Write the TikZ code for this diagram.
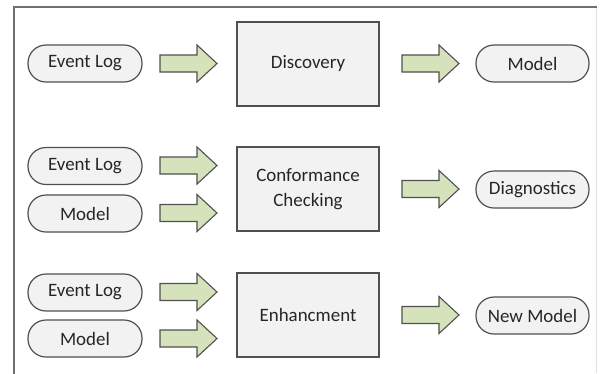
\documentclass[tikz,border=0pt]{standalone}
\usepackage{fontspec}
\setmainfont{Carlito}
\definecolor{txt}{HTML}{262626}
\definecolor{pillfill}{HTML}{F2F2F2}
\definecolor{boxfill}{HTML}{F2F2F2}
\definecolor{edge}{HTML}{505050}
\definecolor{agreen}{HTML}{D5E2BC}
\definecolor{frame}{HTML}{707070}
\begin{document}
\begin{tikzpicture}[x=1bp,y=-1bp,
  pill/.style={draw=edge,line width=1.2bp,fill=pillfill,rounded corners=18bp,
    minimum height=37bp,inner sep=0pt,text=txt,font=\fontsize{19}{22}\selectfont},
  inpill/.style={pill,minimum width=114bp},
  outpill/.style={pill,minimum width=113bp},
  procbox/.style={draw=edge,line width=1.2bp,fill=boxfill,minimum width=142bp,
    minimum height=84bp,inner sep=0pt,text=txt,align=center,
    font=\fontsize{19}{25.5}\selectfont},
  garrow/.pic={\draw[draw=edge,line width=1.1bp,fill=agreen,line join=miter]
    (0,-8.5) -- (37,-8.5) -- (37,-18.5) -- (57,0) -- (37,18.5) -- (37,8.5) -- (0,8.5) -- cycle;}
]
\useasboundingbox (0,0) rectangle (601,373);
% frame
\draw[frame,line width=1.2bp] (14,374) -- (14,7) -- (597,7);
\draw[black!12,line width=0.8bp] (596,8) -- (596,373);

% Row 1
\node[inpill] (el1) at (85,63.5) {Event Log};
\pic at (160,63.5) {garrow};
\node[procbox] (disc) at (308,64) {Discovery};
\pic at (402,63.5) {garrow};
\node[outpill] (mod1) at (532.5,63.5) {Model};

% Row 2
\node[inpill] (el2) at (85,166) {Event Log};
\node[inpill] (mod2) at (85,213.5) {Model};
\pic at (160,165.5) {garrow};
\pic at (160,213) {garrow};
\node[procbox] (conf) at (308,189) {Conformance\\Checking};
\pic at (402,189) {garrow};
\node[outpill] (diag) at (532.5,189.5) {Diagnostics};

% Row 3
\node[inpill] (el3) at (85,292.5) {Event Log};
\node[inpill] (mod3) at (85,338.5) {Model};
\pic at (160,292) {garrow};
\pic at (160,338.5) {garrow};
\node[procbox] (enh) at (308,315) {Enhancment};
\pic at (402,315) {garrow};
\node[outpill] (newm) at (532.5,315.5) {New Model};
\end{tikzpicture}
\end{document}
